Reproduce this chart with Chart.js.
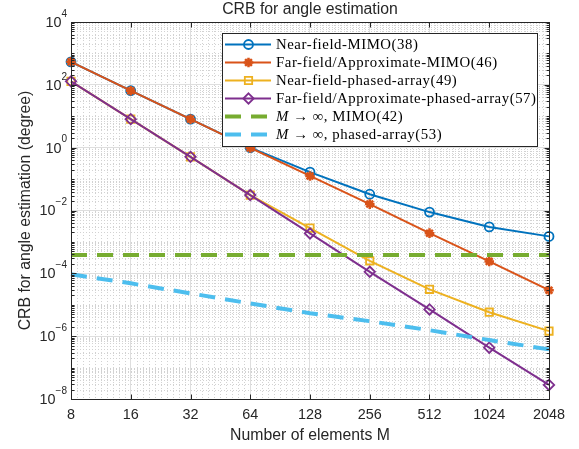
<!DOCTYPE html>
<html>
<head>
<meta charset="utf-8">
<title>CRB for angle estimation</title>
<script src="https://cdn.jsdelivr.net/npm/chart.js@4/dist/chart.umd.min.js"></script>
<style>
  body { margin: 0; background: #fff; }
  canvas { display: block; }
</style>
</head>
<body>
<canvas id="crb" width="579" height="449"></canvas>
<script>

// number of array elements M (x axis, log2 spaced)
const elements = [8, 16, 32, 64, 128, 256, 512, 1024, 2048];

// CRB values in degree
const nearFieldMimo   = [540, 65, 8.1, 1.0, 0.166, 0.033, 0.0089, 0.003, 0.0015];
const farFieldMimo    = [540, 65, 8.1, 0.98, 0.126, 0.016, 0.0019, 0.00024, 0.000029];
const nearFieldPhased = [129, 8.1, 0.51, 0.031, 0.00275, 0.00025, 0.000031, 0.0000058, 0.00000145];
const farFieldPhased  = [129, 8.1, 0.51, 0.031, 0.00186, 0.000112, 0.0000071, 0.00000043, 0.000000028];
const limitMimo       = [0.00038, 0.00038, 0.00038, 0.00038, 0.00038, 0.00038, 0.00038, 0.00038, 0.00038];
const limitPhased     = [0.000093, 0.000048, 0.000023, 0.000011, 0.0000054, 0.000003, 0.00000155, 0.00000075, 0.00000038];

const yTicks = [1e-8, 1e-6, 1e-4, 1e-2, 1, 1e2, 1e4];

const seriesLabels = [
    'Near-field-MIMO(38)',
    'Far-field/Approximate-MIMO(46)',
    'Near-field-phased-array(49)',
    'Far-field/Approximate-phased-array(57)',
    'M \u2192 \u221e, MIMO(42)',
    'M \u2192 \u221e, phased-array(53)'
];

const INK = '#262626';
const SANS = '"Liberation Sans", Arial, sans-serif';
const SERIF = '"Liberation Serif", "Times New Roman", serif';

let pts = (vals) => elements.map((m, i) => ({ x: m, y: vals[i] }));

let series = (i, vals, color, extra) => Object.assign({
    label: seriesLabels[i],
    data: pts(vals),
    borderColor: color,
    backgroundColor: 'rgba(0,0,0,0)',
    pointBackgroundColor: 'rgba(0,0,0,0)',
    pointBorderColor: color,
    borderWidth: 2,
    pointBorderWidth: 1.8,
    tension: 0,
    clip: false,
    order: 5 - i
}, extra);

/* marker shapes, same ones the datasets use */
let mark = (ctx, style, r, x, y) => {
    ctx.beginPath();
    if (style === 'circle') {
        ctx.arc(x, y, r, 0, Math.PI * 2);
    } else if (style === 'rect') {
        const s = r * Math.SQRT1_2;
        ctx.rect(x - s, y - s, 2 * s, 2 * s);
    } else if (style === 'rectRot') {
        ctx.moveTo(x, y - r); ctx.lineTo(x + r, y); ctx.lineTo(x, y + r); ctx.lineTo(x - r, y); ctx.closePath();
    } else if (style === 'star') {
        for (let k = 0; k < 4; k++) {
            const a = k * Math.PI / 4;
            ctx.moveTo(x - Math.cos(a) * r, y - Math.sin(a) * r);
            ctx.lineTo(x + Math.cos(a) * r, y + Math.sin(a) * r);
        }
    }
    ctx.stroke();
};

let hline = (ctx, x0, x1, y) => { ctx.beginPath(); ctx.moveTo(x0, y); ctx.lineTo(x1, y); ctx.stroke(); };
let vline = (ctx, x, y0, y1) => { ctx.beginPath(); ctx.moveTo(x, y0); ctx.lineTo(x, y1); ctx.stroke(); };

const frame = {
    id: 'frame',
    beforeDatasetsDraw(chart) {
        const { ctx, chartArea: a, scales: { x, y } } = chart;
        ctx.save();
        ctx.strokeStyle = '#d2d2d2';
        ctx.lineWidth = 1;
        ctx.setLineDash([1, 2]);
        // minor y grid: 1..9 x 10^n except the labelled decades
        for (let n = -8; n < 4; n++) {
            for (let k = 1; k < 10; k++) {
                if (k === 1 && n % 2 === 0) continue;
                const py = Math.round(y.getPixelForValue(k * Math.pow(10, n))) + 0.5;
                hline(ctx, a.left, a.right, py);
            }
        }
        // minor x grid: ten steps per octave
        for (let i = 0; i < elements.length - 1; i++) {
            for (let j = 1; j < 10; j++) {
                const px = Math.round(x.getPixelForValue(elements[i] * Math.pow(2, j / 10))) + 0.5;
                vline(ctx, px, a.top, a.bottom);
            }
        }
        ctx.restore();
    },
    afterDraw(chart) {
        const { ctx, chartArea: a, scales: { x, y } } = chart;
        const L = Math.round(a.left) + 0.5, R = Math.round(a.right) + 0.5;
        const T = Math.round(a.top) + 0.5, B = Math.round(a.bottom) + 0.5;
        ctx.save();

        // axes box and inward ticks
        ctx.strokeStyle = INK;
        ctx.lineWidth = 1;
        ctx.strokeRect(L, T, R - L, B - T);
        elements.forEach(m => {
            const px = Math.round(x.getPixelForValue(m)) + 0.5;
            vline(ctx, px, B, B - 5);
            vline(ctx, px, T, T + 5);
        });
        for (let n = -8; n < 4; n++) {
            for (let k = 1; k < 10; k++) {
                const py = Math.round(y.getPixelForValue(k * Math.pow(10, n))) + 0.5;
                const len = (k === 1 && n % 2 === 0) ? 5 : 3;
                hline(ctx, L, L + len, py);
                hline(ctx, R, R - len, py);
            }
        }

        // y tick labels 10^n
        ctx.fillStyle = INK;
        ctx.textBaseline = 'middle';
        yTicks.forEach(v => {
            const py = y.getPixelForValue(v);
            const exp = String(Math.round(Math.log10(v))).replace('-', '\u2212');
            ctx.font = '10px ' + SANS;
            ctx.textAlign = 'right';
            const ew = ctx.measureText(exp).width;
            ctx.fillText(exp, 67, py - 8);
            ctx.font = '14.4px ' + SANS;
            ctx.fillText('10', 67 - ew, py + 1);
        });

        // titles
        ctx.textAlign = 'center';
        ctx.font = '15.8px ' + SANS;
        ctx.fillText('CRB for angle estimation', (a.left + a.right) / 2, 10);
        ctx.fillText('Number of elements M', (a.left + a.right) / 2, 436);
        ctx.save();
        ctx.translate(26, (a.top + a.bottom) / 2);
        ctx.rotate(-Math.PI / 2);
        ctx.fillText('CRB for angle estimation (degree)', 0, 0);
        ctx.restore();

        // legend box
        ctx.fillStyle = '#fff';
        ctx.fillRect(222.5, 33.5, 315, 113);
        ctx.strokeStyle = INK;
        ctx.strokeRect(222.5, 33.5, 315, 113);
        chart.data.datasets.forEach((ds, i) => {
            const ry = 44.5 + i * 18;
            ctx.strokeStyle = ds.borderColor;
            ctx.lineWidth = ds.borderWidth;
            ctx.setLineDash(ds.borderDash || []);
            hline(ctx, 225, 271, ry);
            ctx.setLineDash([]);
            if (ds.pointRadius) {
                ctx.lineWidth = ds.pointBorderWidth;
                mark(ctx, ds.pointStyle, ds.pointRadius, 248.5, ry);
            }
            ctx.fillStyle = '#000';
            ctx.textAlign = 'left';
            ctx.textBaseline = 'middle';
            ctx.letterSpacing = '0.55px';
            let tx = 276;
            let txt = ds.label;
            if (txt.startsWith('M ')) {
                ctx.font = 'italic 14.8px ' + SERIF;
                ctx.fillText('M', tx, ry + 1);
                tx += ctx.measureText('M').width;
                txt = txt.slice(1);
            }
            ctx.font = '14.8px ' + SERIF;
            ctx.fillText(txt, tx, ry + 1);
            ctx.letterSpacing = '0px';
        });
        ctx.restore();
    }
};

const datasets = [
    series(0, nearFieldMimo, '#0072BD', { pointStyle: 'circle', pointRadius: 4.5 }),
    series(1, farFieldMimo, '#D95319', { pointStyle: 'star', pointRadius: 4.8, pointBorderWidth: 2.5 }),
    series(2, nearFieldPhased, '#EDB120', { pointStyle: 'rect', pointRadius: 5.2 }),
    series(3, farFieldPhased, '#7E2F8E', { pointStyle: 'rectRot', pointRadius: 5.2 }),
    series(4, limitMimo, '#77AC30', { pointRadius: 0, borderWidth: 4, borderDash: [16, 10], borderCapStyle: 'butt' }),
    series(5, limitPhased, '#4DBEEE', { pointRadius: 0, borderWidth: 4, borderDash: [16, 10], borderCapStyle: 'butt' })
];

const chart = new Chart(document.getElementById('crb'), {
    type: 'line',
    data: { datasets: datasets },
    options: {
        responsive: false,
        devicePixelRatio: 1,
        animation: false,
        events: [],
        layout: { padding: { top: 22, right: 30, left: 0, bottom: 0 } },
        plugins: { legend: { display: false }, title: { display: false }, tooltip: { enabled: false } },
        scales: {
            x: {
                type: 'logarithmic',
                min: 8,
                max: 2048,
                afterBuildTicks: s => { s.ticks = elements.map(v => ({ value: v })); },
                afterFit: s => { s.height = 50; },
                border: { display: false },
                grid: { color: '#dedede', drawTicks: false },
                ticks: {
                    autoSkip: false,
                    maxRotation: 0,
                    padding: 7,
                    color: INK,
                    font: { family: SANS, size: 14.4 },
                    callback: v => String(v)
                }
            },
            y: {
                type: 'logarithmic',
                min: 1e-8,
                max: 1e4,
                afterBuildTicks: s => { s.ticks = yTicks.map(v => ({ value: v })); },
                afterFit: s => { s.width = 71; },
                border: { display: false },
                grid: { color: '#dedede', drawTicks: false },
                ticks: { display: false }
            }
        }
    },
    plugins: [frame]
});
</script>
</body>
</html>
